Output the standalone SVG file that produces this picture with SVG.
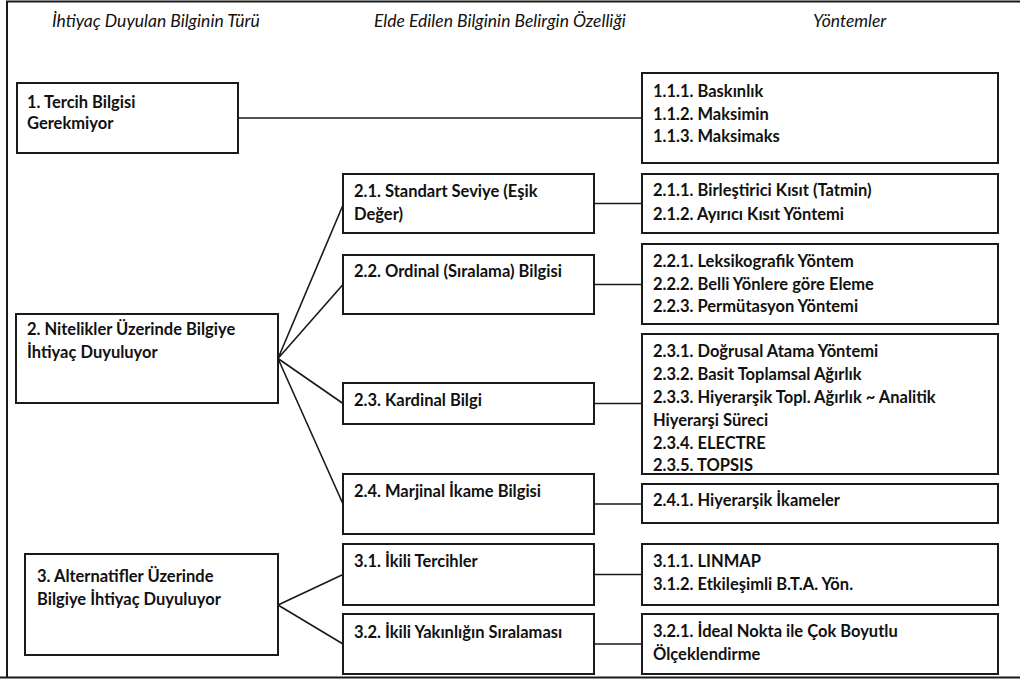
<svg xmlns="http://www.w3.org/2000/svg" width="1020" height="679" viewBox="0 0 1020 679">
<style>
.box{fill:#fff;stroke:#1a1a1a;stroke-width:2}
.t{font-family:Lato,"Liberation Sans",sans-serif;font-weight:bold;font-size:16.5px;fill:#111}
.h{font-family:Lato,"Liberation Sans",sans-serif;font-style:italic;font-size:17.5px;fill:#111}
.c{stroke:#1a1a1a;stroke-width:1.6;fill:none}
.f{stroke:#1a1a1a;stroke-width:2;fill:none}
</style>
<rect width="1020" height="679" fill="#fff"/>
<g id="frame">
<path class="f" d="M7,677 V1.5 H1020 M0,677.5 H1020"/>
</g>
<g id="headers">
<text class="h" x="52" y="27">İhtiyaç Duyulan Bilginin Türü</text>
<text class="h" x="374" y="27">Elde Edilen Bilginin Belirgin Özelliği</text>
<text class="h" x="813" y="27">Yöntemler</text>
</g>
<g id="connectors">
<path class="c" d="M238,118 H642"/>
<path class="c" d="M278,358.5 L343,205 M278,358.5 L343,284.5 M278,358.5 L343,403.5 M278,358.5 L343,504"/>
<path class="c" d="M278,605 L343,574.5 M278,605 L343,644"/>
<path class="c" d="M594,203.5 H642 M594,284.5 H642 M594,403.5 H642 M594,504 H642 M594,574.5 H642 M594,644 H642"/>
</g>
<g id="n1">
<rect class="box" x="17" y="83" width="221" height="70"/>
<text class="t" x="27" y="108">1. Tercih Bilgisi</text>
<text class="t" x="27" y="129">Gerekmiyor</text>
</g>
<g id="n11">
<rect class="box" x="642" y="73" width="356" height="90"/>
<text class="t" x="653" y="97">1.1.1. Baskınlık</text>
<text class="t" x="653" y="119.5">1.1.2. Maksimin</text>
<text class="t" x="653" y="142">1.1.3. Maksimaks</text>
</g>
<g id="n2">
<rect class="box" x="16" y="314" width="262" height="89"/>
<text class="t" x="27" y="335">2. Nitelikler Üzerinde Bilgiye</text>
<text class="t" x="27" y="358">İhtiyaç Duyuluyor</text>
</g>
<g id="n21">
<rect class="box" x="343" y="174" width="251" height="59"/>
<text class="t" x="354" y="197">2.1. Standart Seviye (Eşik</text>
<text class="t" x="354" y="220">Değer)</text>
</g>
<g id="n211">
<rect class="box" x="642" y="174" width="356" height="59"/>
<text class="t" x="653" y="196">2.1.1. Birleştirici Kısıt (Tatmin)</text>
<text class="t" x="653" y="220">2.1.2. Ayırıcı Kısıt Yöntemi</text>
</g>
<g id="n22">
<rect class="box" x="343" y="255" width="251" height="59"/>
<text class="t" x="354" y="277">2.2. Ordinal (Sıralama) Bilgisi</text>
</g>
<g id="n221">
<rect class="box" x="642" y="244" width="356" height="80"/>
<text class="t" x="653" y="267">2.2.1. Leksikografik Yöntem</text>
<text class="t" x="653" y="289.5">2.2.2. Belli Yönlere göre Eleme</text>
<text class="t" x="653" y="312">2.2.3. Permütasyon Yöntemi</text>
</g>
<g id="n23">
<rect class="box" x="343" y="383" width="251" height="41"/>
<text class="t" x="354" y="406">2.3. Kardinal Bilgi</text>
</g>
<g id="n231">
<rect class="box" x="642" y="334" width="356" height="140"/>
<text class="t" x="653" y="357">2.3.1. Doğrusal Atama Yöntemi</text>
<text class="t" x="653" y="380">2.3.2. Basit Toplamsal Ağırlık</text>
<text class="t" x="653" y="403">2.3.3. Hiyerarşik Topl. Ağırlık ~ Analitik</text>
<text class="t" x="653" y="425.5">Hiyerarşi Süreci</text>
<text class="t" x="653" y="448.5">2.3.4. ELECTRE</text>
<text class="t" x="653" y="471">2.3.5. TOPSIS</text>
</g>
<g id="n24">
<rect class="box" x="343" y="474" width="251" height="60"/>
<text class="t" x="354" y="497">2.4. Marjinal İkame Bilgisi</text>
</g>
<g id="n241">
<rect class="box" x="642" y="484" width="356" height="39"/>
<text class="t" x="653" y="506">2.4.1. Hiyerarşik İkameler</text>
</g>
<g id="n3">
<rect class="box" x="25" y="554" width="253" height="101"/>
<text class="t" x="37" y="582">3. Alternatifler Üzerinde</text>
<text class="t" x="37" y="605">Bilgiye İhtiyaç Duyuluyor</text>
</g>
<g id="n31">
<rect class="box" x="343" y="544" width="251" height="61"/>
<text class="t" x="354" y="567">3.1. İkili Tercihler</text>
</g>
<g id="n311">
<rect class="box" x="642" y="544" width="356" height="61"/>
<text class="t" x="653" y="567">3.1.1. LINMAP</text>
<text class="t" x="653" y="590">3.1.2. Etkileşimli B.T.A. Yön.</text>
</g>
<g id="n32">
<rect class="box" x="343" y="614" width="251" height="60"/>
<text class="t" x="354" y="638">3.2. İkili Yakınlığın Sıralaması</text>
</g>
<g id="n321">
<rect class="box" x="642" y="614" width="356" height="60"/>
<text class="t" x="653" y="637">3.2.1. İdeal Nokta ile Çok Boyutlu</text>
<text class="t" x="653" y="660">Ölçeklendirme</text>
</g>
</svg>
